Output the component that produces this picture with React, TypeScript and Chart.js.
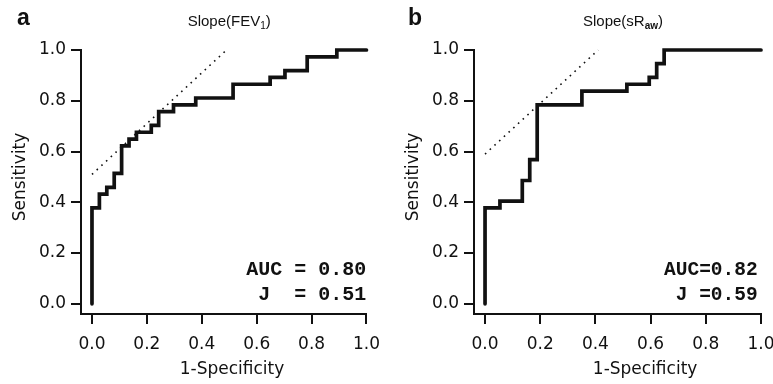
import React, { useEffect, useRef } from "react";
import { Chart, registerables } from "chart.js";

Chart.register(...registerables);

// Axis ticks shared by both panels
const axisTicks = [0, 0.2, 0.4, 0.6, 0.8, 1.0];

// Panel a: Slope(FEV1) ROC step points (1-Specificity, Sensitivity)
const fprA = [0, 0.027, 0.054, 0.081, 0.108, 0.135, 0.162, 0.216, 0.243, 0.297, 0.378, 0.514, 0.649, 0.703, 0.784, 0.892, 1.0];
const tprA = [0.378, 0.432, 0.459, 0.514, 0.622, 0.649, 0.676, 0.703, 0.757, 0.784, 0.811, 0.865, 0.892, 0.919, 0.973, 1.0, 1.0];
const refAx = [0, 0.49];
const refAy = [0.51, 1.0];
const statsA = ["AUC = 0.80", " J  = 0.51"];

// Panel b: Slope(sRaw)
const fprB = [0, 0.054, 0.135, 0.162, 0.189, 0.351, 0.514, 0.595, 0.622, 0.649, 1.0];
const tprB = [0.378, 0.405, 0.486, 0.568, 0.784, 0.838, 0.865, 0.892, 0.946, 1.0, 1.0];
const refBx = [0, 0.41];
const refBy = [0.59, 1.0];
const statsB = ["AUC=0.82", " J =0.59"];

function stepPoints(fpr: number[], tpr: number[]) {
  const pts: { x: number; y: number }[] = [{ x: 0, y: 0 }];
  let prev = 0;
  for (let i = 0; i < fpr.length; i++) {
    pts.push({ x: fpr[i], y: prev });
    pts.push({ x: fpr[i], y: tpr[i] });
    prev = tpr[i];
  }
  return pts;
}

const INK = "#111";
const TICK_FONT = { family: "DejaVu Sans", size: 17 };

const textPlugin = {
  id: "panelText",
  afterDraw(chart: any, _args: any, opts: any) {
    const { ctx, chartArea, scales } = chart;
    const xs = scales.x;
    const ys = scales.y;
    ctx.save();
    ctx.fillStyle = INK;
    // panel letter
    ctx.font = 'bold 23px "Liberation Sans"';
    ctx.textAlign = "left";
    ctx.textBaseline = "alphabetic";
    ctx.fillText(opts.letter, opts.letterX, 25);

    // title with subscript
    const mainFont = '15px "Liberation Sans"';
    const subFont = (opts.subBold ? "bold " : "") + '10px "Liberation Sans"';
    ctx.font = mainFont;
    const w1 = ctx.measureText(opts.titleMain).width;
    const w3 = ctx.measureText(")").width;
    ctx.font = subFont;
    const w2 = ctx.measureText(opts.titleSub).width;
    let tx = xs.getPixelForValue(0.5) - (w1 + w2 + w3) / 2;
    const ty = 26;
    ctx.font = mainFont;
    ctx.fillText(opts.titleMain, tx, ty);
    tx += w1;
    ctx.font = subFont;
    ctx.fillText(opts.titleSub, tx, ty + 3);
    tx += w2;
    ctx.font = mainFont;
    ctx.fillText(")", tx, ty);

    // axis titles
    ctx.font = '17px "DejaVu Sans"';
    ctx.textAlign = "center";
    ctx.textBaseline = "alphabetic";
    ctx.fillText("1-Specificity", xs.getPixelForValue(opts.xTitleAt), 374);
    ctx.save();
    ctx.translate(chartArea.left - 60, ys.getPixelForValue(0.5));
    ctx.rotate(-Math.PI / 2);
    ctx.textBaseline = "middle";
    ctx.fillText("Sensitivity", 0, 0);
    ctx.restore();

    // stats
    ctx.font = "bold " + opts.statsSize + 'px "Liberation Mono"';
    ctx.textAlign = "left";
    ctx.textBaseline = "alphabetic";
    const sx = xs.getPixelForValue(opts.statsAt);
    ctx.fillText(opts.stats[0], sx, ys.getPixelForValue(0.114));
    ctx.fillText(opts.stats[1], sx, ys.getPixelForValue(0.016));
    ctx.restore();
  },
};

type PanelProps = {
  left: number;
  width: number;
  yAxisWidth: number;
  padRight: number;
  letter: string;
  letterX: number;
  titleMain: string;
  titleSub: string;
  subBold: boolean;
  fpr: number[];
  tpr: number[];
  refX: number[];
  refY: number[];
  stats: string[];
  statsAt: number;
  statsSize: number;
  xTitleAt: number;
};

function Panel(p: PanelProps) {
  const ref = useRef<HTMLCanvasElement | null>(null);
  useEffect(() => {
    if (!ref.current) return;
    const chart = new Chart(ref.current, {
      type: "line",
      data: {
        datasets: [
          {
            data: stepPoints(p.fpr, p.tpr),
            borderColor: INK,
            borderWidth: 3.7,
            borderCapStyle: "round",
            borderJoinStyle: "miter",
            pointRadius: 0,
            tension: 0,
            clip: false,
          } as any,
          {
            data: [
              { x: p.refX[0], y: p.refY[0] },
              { x: p.refX[1], y: p.refY[1] },
            ],
            borderColor: INK,
            borderWidth: 1.6,
            borderDash: [1.6, 4.8],
            pointRadius: 0,
            tension: 0,
            clip: false,
          } as any,
        ],
      },
      options: {
        responsive: false,
        animation: false,
        layout: { padding: { top: 50, right: p.padRight, left: 0, bottom: 0 } },
        plugins: {
          legend: { display: false },
          tooltip: { enabled: false },
          panelText: {
            letter: p.letter,
            letterX: p.letterX,
            titleMain: p.titleMain,
            titleSub: p.titleSub,
            subBold: p.subBold,
            stats: p.stats,
            statsAt: p.statsAt,
            statsSize: p.statsSize,
            xTitleAt: p.xTitleAt,
          },
        } as any,
        scales: {
          x: {
            type: "linear",
            min: -0.04,
            max: 1,
            afterBuildTicks: (s: any) => {
              s.ticks = axisTicks.map((v) => ({ value: v }));
            },
            afterFit: (s: any) => {
              s.height = 70;
            },
            ticks: {
              callback: (v: any) => Number(v).toFixed(1),
              font: TICK_FONT,
              color: INK,
              padding: 10,
              maxRotation: 0,
              autoSkip: false,
            },
            grid: { drawOnChartArea: false, drawTicks: true, tickLength: 10, color: INK, lineWidth: 2 },
            border: { display: true, color: INK, width: 2 },
          },
          y: {
            type: "linear",
            min: -0.04,
            max: 1,
            afterBuildTicks: (s: any) => {
              s.ticks = axisTicks.map((v) => ({ value: v }));
            },
            afterFit: (s: any) => {
              s.width = p.yAxisWidth;
            },
            ticks: {
              callback: (v: any) => Number(v).toFixed(1),
              font: TICK_FONT,
              color: INK,
              padding: 5,
              autoSkip: false,
            },
            grid: { drawOnChartArea: false, drawTicks: true, tickLength: 10, color: INK, lineWidth: 2 },
            border: { display: true, color: INK, width: 2 },
          },
        },
      } as any,
      plugins: [textPlugin as any],
    });
    return () => chart.destroy();
  }, []);
  return (
    <canvas
      ref={ref}
      width={p.width}
      height={384}
      style={{ position: "absolute", left: p.left, top: 0, width: p.width, height: 384 }}
    />
  );
}

export default function App() {
  return (
    <div
      style={{
        position: "absolute",
        left: 0,
        top: 0,
        width: 773,
        height: 384,
        overflow: "hidden",
        background: "#fff",
      }}
    >
      <Panel
        left={0}
        width={390}
        yAxisWidth={81}
        padRight={22}
        letter="a"
        letterX={17}
        titleMain="Slope(FEV"
        titleSub="1"
        subBold={false}
        fpr={fprA}
        tpr={tprA}
        refX={refAx}
        refY={refAy}
        stats={statsA}
        statsAt={0.5616}
        statsSize={20}
        xTitleAt={0.51}
      />
      <Panel
        left={390}
        width={400}
        yAxisWidth={84}
        padRight={29}
        letter="b"
        letterX={18}
        titleMain="Slope(sR"
        titleSub="aw"
        subBold={true}
        fpr={fprB}
        tpr={tprB}
        refX={refBx}
        refY={refBy}
        stats={statsB}
        statsAt={0.6486}
        statsSize={19.5}
        xTitleAt={0.58}
      />
    </div>
  );
}
